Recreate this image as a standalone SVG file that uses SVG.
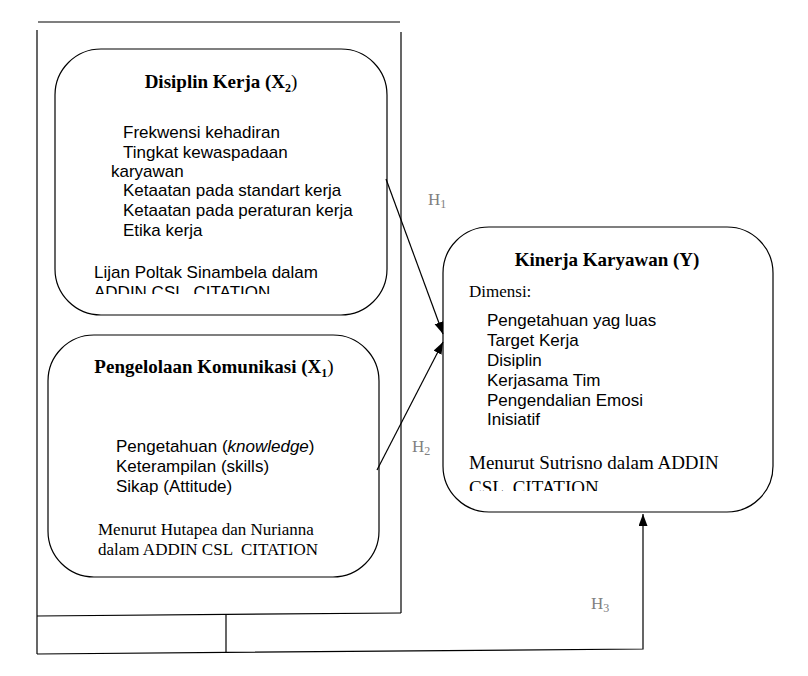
<svg xmlns="http://www.w3.org/2000/svg" width="808" height="676" viewBox="0 0 808 676">
<style>
.box{fill:#fff;stroke:#000;stroke-width:1.2}
.ttl{font-family:"Liberation Serif",serif;font-weight:bold;font-size:19px;fill:#000}
.sans{font-family:"Liberation Sans",Arial,sans-serif;font-size:17px;fill:#000}
.serif{font-family:"Liberation Serif",serif;font-size:17px;fill:#000;white-space:pre}
.serif19{font-family:"Liberation Serif",serif;font-size:19px;fill:#000;white-space:pre}
.h{font-family:"Liberation Serif",serif;font-size:17px;fill:#808080}
.ln{fill:none;stroke:#000;stroke-width:1.2}
</style>
<defs>
<marker id="ah" markerUnits="userSpaceOnUse" markerWidth="13" markerHeight="10" refX="12" refY="4.5" orient="auto">
<path d="M0,0 L12,4.5 L0,9 z" fill="#000"/>
</marker>
<clipPath id="c1"><rect x="50" y="40" width="340" height="254"/></clipPath>
<clipPath id="c3"><rect x="440" y="220" width="340" height="271"/></clipPath>
</defs>
<rect width="808" height="676" fill="#fff"/>
<g id="frame">
<line x1="38" y1="22" x2="400" y2="22" stroke="#555" stroke-width="1.3"/>
<line class="ln" x1="37" y1="30" x2="37" y2="654"/>
<line class="ln" x1="401" y1="32" x2="401" y2="613"/>
<line class="ln" x1="37" y1="616" x2="401" y2="613"/>
<line class="ln" x1="226" y1="615" x2="226" y2="653"/>
</g>
<g id="node-x2">
<rect class="box" x="55" y="49" width="332" height="266" rx="46" ry="46"/>
<text class="ttl" x="221" y="88" text-anchor="middle">Disiplin Kerja (X<tspan font-size="12" dy="4">2</tspan><tspan dy="-4" font-weight="normal">)</tspan></text>
<text class="sans" x="123" y="138">Frekwensi kehadiran</text>
<text class="sans" x="123" y="158">Tingkat kewaspadaan</text>
<text class="sans" x="111" y="177">karyawan</text>
<text class="sans" x="123" y="196">Ketaatan pada standart kerja</text>
<text class="sans" x="123" y="216">Ketaatan pada peraturan kerja</text>
<text class="sans" x="123" y="236">Etika kerja</text>
<g clip-path="url(#c1)">
<text class="sans" x="94" y="278">Lijan Poltak Sinambela dalam</text>
<text class="sans" x="94" y="298" style="white-space:pre">ADDIN CSL  CITATION</text>
</g>
</g>
<g id="node-x1">
<rect class="box" x="48" y="335" width="331" height="242" rx="46" ry="46"/>
<text class="ttl" x="214" y="373" text-anchor="middle">Pengelolaan Komunikasi (X<tspan font-size="12" dy="4">1</tspan><tspan dy="-4" font-weight="normal">)</tspan></text>
<text class="sans" x="116" y="452">Pengetahuan (<tspan font-style="italic">knowledge</tspan>)</text>
<text class="sans" x="116" y="472">Keterampilan (skills)</text>
<text class="sans" x="116" y="492">Sikap (Attitude)</text>
<text class="serif" x="98" y="535">Menurut Hutapea dan Nurianna</text>
<text class="serif" x="98" y="555">dalam ADDIN CSL  CITATION</text>
</g>
<g id="node-y">
<rect class="box" x="443" y="227" width="330" height="285" rx="46" ry="46"/>
<text class="ttl" x="607" y="266" text-anchor="middle">Kinerja Karyawan (Y)</text>
<text class="serif" x="469" y="297">Dimensi:</text>
<text class="sans" x="487" y="326">Pengetahuan yag luas</text>
<text class="sans" x="487" y="346">Target Kerja</text>
<text class="sans" x="487" y="366">Disiplin</text>
<text class="sans" x="487" y="386">Kerjasama Tim</text>
<text class="sans" x="487" y="406">Pengendalian Emosi</text>
<text class="sans" x="487" y="425">Inisiatif</text>
<g clip-path="url(#c3)">
<text class="serif19" x="469" y="469">Menurut Sutrisno dalam ADDIN</text>
<text class="serif19" x="469" y="494">CSL  CITATION</text>
</g>
</g>
<g id="connectors">
<line class="ln" x1="386" y1="179" x2="443" y2="334" marker-end="url(#ah)"/>
<line class="ln" x1="377" y1="470" x2="443" y2="342" marker-end="url(#ah)"/>
<polyline class="ln" points="37,654 643,649 643,514" marker-end="url(#ah)"/>
<text class="h" x="428" y="205">H<tspan font-size="12" dy="3">1</tspan></text>
<text class="h" x="412" y="452">H<tspan font-size="12" dy="3">2</tspan></text>
<text class="h" x="591" y="609">H<tspan font-size="12" dy="3">3</tspan></text>
</g>
</svg>
